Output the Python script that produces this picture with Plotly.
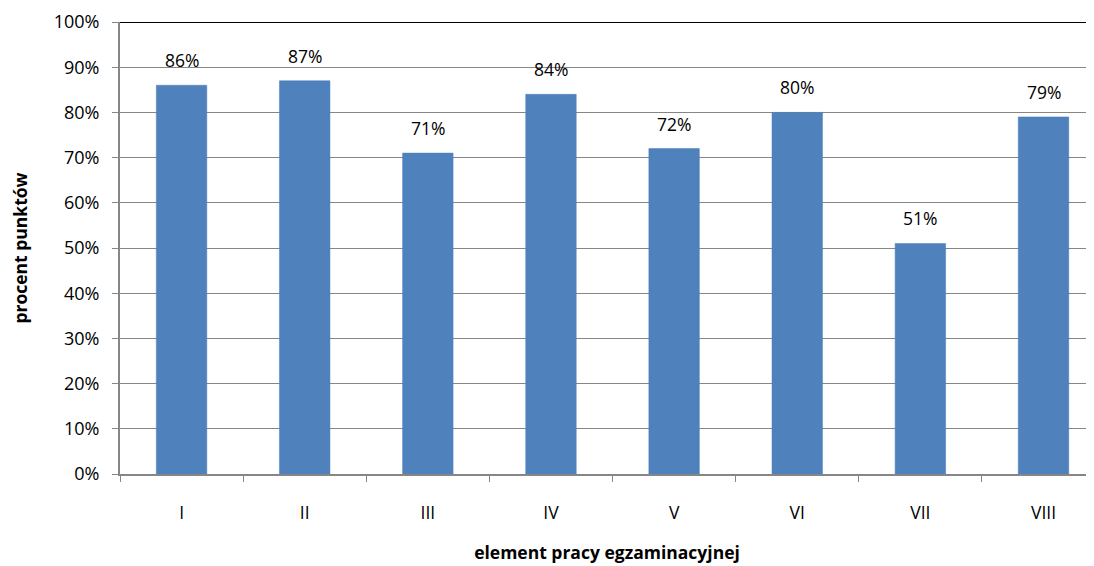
import plotly.graph_objects as go

categories = ["I", "II", "III", "IV", "V", "VI", "VII", "VIII"]
values = [0.86, 0.87, 0.71, 0.84, 0.72, 0.80, 0.51, 0.79]
labels = ["86%", "87%", "71%", "84%", "72%", "80%", "51%", "79%"]
y_ticks = [i / 10 for i in range(11)]
y_tick_text = [f"{i * 10}%" for i in range(11)]

FONT = "Open Sans, sans-serif"

fig = go.Figure()
fig.add_trace(go.Bar(
    x=categories, y=values,
    marker=dict(color="#4F81BD", line=dict(color="#4A7EBB", width=0.5)),
    width=0.41,
))
for c, v, t in zip(categories, values, labels):
    fig.add_annotation(x=c, y=v, text=t, showarrow=False, yshift=25,
                       font=dict(size=17.5, color="#000", family=FONT))

fig.add_shape(type="line", xref="paper", yref="y", x0=0, x1=1, y0=1, y1=1,
              line=dict(color="#000", width=2))

fig.update_layout(
    width=1086, height=558,
    margin=dict(l=112, r=0, t=14, b=92),
    paper_bgcolor="white", plot_bgcolor="white",
    showlegend=False,
    font=dict(family=FONT, size=17.5, color="#000"),
    xaxis=dict(
        range=[-0.5, 7.41],
        tickson="boundaries", ticks="outside", ticklen=6, tickcolor="#868686",
        showline=True, linecolor="#868686", linewidth=2,
        showgrid=False, ticklabelstandoff=22,
        tickfont=dict(size=17.5, family=FONT),
        title=dict(text="<b>element pracy egzaminacyjnej</b>", font=dict(size=17.5, family=FONT), standoff=24),
    ),
    yaxis=dict(
        range=[0, 1], tickvals=y_ticks, ticktext=y_tick_text,
        ticks="outside", ticklen=6, tickcolor="#868686",
        showline=True, linecolor="#868686", linewidth=2,
        showgrid=True, gridcolor="#868686", gridwidth=1,
        ticklabelstandoff=9,
        tickfont=dict(size=18, family=FONT),
        title=dict(text="<b>procent punktów</b>", font=dict(size=17.5, family=FONT), standoff=24),
    ),
)

fig.write_html("out.html")
